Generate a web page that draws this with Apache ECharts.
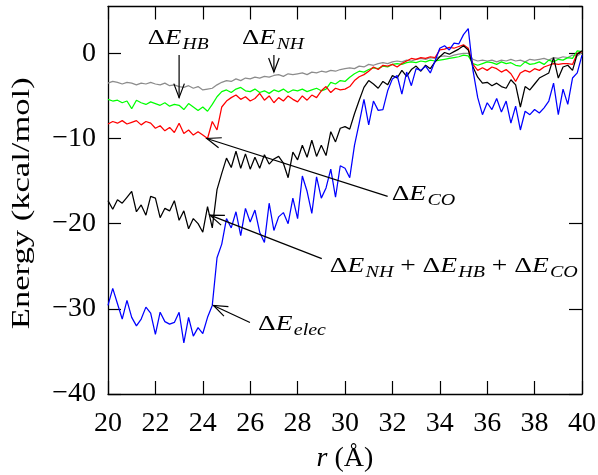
<!DOCTYPE html>
<html><head><meta charset="utf-8">
<script src="https://cdn.jsdelivr.net/npm/echarts@6/dist/echarts.min.js"></script>
<style>html,body{margin:0;padding:0;background:#fff}#c{width:598px;height:475px}</style>
</head><body><div id="c"></div>
<script>
// r (Angstrom) sample positions
const rValues = [
 20.0,20.2,20.4,20.6,20.8,21.0,21.2,21.4,21.6,21.8,
 22.0,22.2,22.4,22.6,22.8,23.0,23.2,23.4,23.6,23.8,
 24.0,24.2,24.4,24.6,24.8,25.0,25.2,25.4,25.6,25.8,
 26.0,26.2,26.4,26.6,26.8,27.0,27.2,27.4,27.6,27.8,
 28.0,28.2,28.4,28.6,28.8,29.0,29.2,29.4,29.6,29.8,
 30.0,30.2,30.4,30.6,30.8,31.0,31.2,31.4,31.6,31.8,
 32.0,32.2,32.4,32.6,32.8,33.0,33.2,33.4,33.6,33.8,
 34.0,34.2,34.4,34.6,34.8,35.0,35.2,35.4,35.6,35.8,
 36.0,36.2,36.4,36.6,36.8,37.0,37.2,37.4,37.6,37.8,
 38.0,38.2,38.4,38.6,38.8,39.0,39.2,39.4,39.6,39.8,
 40.0];
// Delta E_NH (grey)
const dENH = [
 -3.5,-3.3,-3.4,-3.6,-3.4,-3.5,-3.7,-3.5,-3.6,-3.4,
 -3.6,-3.7,-3.5,-3.8,-3.7,-3.9,-4.0,-3.8,-4.1,-3.9,
 -4.3,-4.2,-4.1,-3.7,-3.4,-3.2,-3.3,-3.0,-3.2,-2.9,
 -3.0,-2.8,-2.9,-2.7,-2.8,-2.6,-2.5,-2.7,-2.4,-2.5,
 -2.4,-2.3,-2.5,-2.2,-2.3,-2.1,-2.2,-2.0,-2.1,-1.9,
 -1.8,-1.7,-1.8,-1.5,-1.6,-1.3,-1.4,-1.2,-1.1,-1.2,
 -1.0,-0.9,-1.0,-0.8,-0.9,-0.7,-0.6,-0.7,-0.5,-0.6,
 -0.4,-0.3,-0.4,-0.2,-0.1,0.0,0.0,-0.7,-0.9,-0.8,
 -0.9,-0.8,-1.0,-0.8,-0.9,-0.7,-0.9,-0.8,-1.0,-0.7,
 -0.8,-0.7,-0.6,-0.8,-0.5,-0.6,-0.4,-0.5,-0.2,-0.3,
 0.1];
// Delta E_HB (green)
const dEHB = [
 -5.4,-5.6,-5.5,-5.8,-5.6,-6.5,-5.5,-5.8,-6.0,-5.7,
 -5.9,-6.1,-5.8,-6.2,-6.0,-6.1,-6.6,-5.9,-6.3,-6.7,
 -6.3,-6.8,-6.0,-5.1,-4.5,-4.3,-4.6,-4.2,-4.0,-4.4,
 -4.5,-4.2,-4.6,-4.4,-4.7,-4.3,-4.5,-4.2,-4.6,-4.3,
 -4.4,-4.2,-4.5,-4.3,-4.1,-4.4,-4.2,-3.4,-3.6,-3.2,
 -3.3,-2.8,-2.4,-2.1,-2.2,-1.9,-1.7,-1.8,-1.5,-1.6,
 -1.3,-1.2,-1.3,-1.1,-1.0,-1.1,-0.9,-1.0,-0.8,-0.9,
 -0.8,-0.7,-0.6,-0.5,-0.4,-0.2,-0.3,-1.2,-1.4,-1.2,
 -1.0,-1.1,-1.3,-1.0,-1.2,-1.1,-1.4,-1.5,-1.0,-1.3,
 -1.2,-1.0,-1.3,-0.8,-1.0,-0.7,-0.8,-0.5,-0.6,0.3,
 0.2];
// Delta E_CO (red)
const dECO = [
 -8.3,-8.0,-8.2,-7.9,-8.3,-8.1,-7.9,-8.4,-8.0,-8.2,
 -8.8,-8.5,-9.1,-8.7,-9.3,-8.2,-9.4,-9.0,-9.6,-9.2,
 -9.6,-10.0,-8.0,-9.0,-6.3,-5.6,-5.2,-4.9,-5.4,-5.1,
 -5.6,-5.3,-4.7,-5.5,-5.0,-5.8,-5.2,-5.6,-5.0,-5.4,
 -5.7,-5.0,-5.5,-4.9,-5.2,-4.4,-3.9,-4.6,-4.1,-4.3,
 -4.2,-3.9,-3.2,-2.75,-2.5,-2.1,-1.6,-1.9,-1.4,-1.5,
 -1.3,-1.6,-1.2,-0.9,-0.6,-0.7,-0.5,-0.6,-0.4,-0.5,
 0.4,0.5,0.7,0.6,0.8,1.0,0.6,-1.3,-2.0,-1.7,
 -2.0,-1.6,-1.8,-2.2,-1.9,-2.4,-3.3,-2.3,-2.0,-2.2,
 -1.8,-2.0,-1.6,-1.4,-1.2,-1.3,-1.2,-1.2,-1.3,0.0,
 0.2];
// Delta E_NH + Delta E_HB + Delta E_CO (black)
const dESum = [
 -17.3,-18.3,-17.2,-17.6,-16.9,-16.2,-18.6,-17.8,-19.0,-16.8,
 -17.0,-19.3,-18.2,-18.5,-17.3,-19.6,-18.5,-20.6,-19.4,-20.0,
 -21.0,-18.0,-20.5,-16.0,-14.1,-12.3,-13.4,-11.5,-13.5,-11.8,
 -13.6,-12.2,-13.5,-11.9,-13.0,-12.4,-12.1,-12.9,-14.6,-11.6,
 -12.5,-10.8,-12.2,-10.2,-12.1,-10.8,-12.0,-9.2,-10.4,-8.8,
 -8.6,-8.9,-7.1,-5.5,-4.0,-3.2,-3.6,-4.1,-3.3,-3.7,
 -2.6,-2.9,-2.0,-2.7,-1.9,-1.5,-2.1,-1.4,-1.8,-1.0,
 -0.4,0.1,-0.1,0.2,0.5,0.9,0.4,-1.6,-2.8,-3.5,
 -3.4,-3.8,-3.5,-3.9,-4.1,-3.1,-3.7,-6.3,-3.9,-4.3,
 -3.6,-2.9,-2.6,-2.3,-0.5,-2.9,-1.6,-1.4,-2.0,-0.1,
 0.3];
// Delta E_elec (blue)
const dEElec = [
 -29.6,-27.6,-29.4,-31.2,-29.0,-31.0,-32.0,-31.2,-29.8,-30.5,
 -33.0,-30.4,-31.5,-31.8,-31.6,-30.4,-34.0,-31.0,-33.2,-32.2,
 -32.9,-31.0,-29.6,-24.0,-22.4,-19.4,-20.5,-18.6,-21.4,-18.2,
 -19.8,-18.4,-21.0,-22.2,-17.6,-20.8,-19.2,-18.7,-20.0,-17.0,
 -19.4,-14.4,-16.2,-18.8,-14.5,-17.0,-15.8,-13.6,-16.9,-13.2,
 -13.5,-14.6,-10.8,-8.2,-5.4,-8.4,-5.6,-6.7,-6.6,-4.4,
 -3.0,-2.6,-4.8,-2.2,-3.8,-1.8,-2.0,-1.5,-2.3,-0.9,
 0.6,0.9,0.4,1.2,1.1,2.2,2.9,-2.0,-5.2,-7.2,
 -5.8,-6.6,-5.3,-6.9,-5.6,-8.2,-6.2,-9.0,-6.8,-7.2,
 -6.6,-7.0,-6.4,-5.6,-3.5,-7.2,-4.2,-6.0,-2.9,-2.3,
 -0.2];
const xTicks = [20,22,24,26,28,30,32,34,36,38,40];
const yTicks = [-40,-30,-20,-10,0];

const FONT = "'Liberation Serif', 'DejaVu Serif', serif";
const pair = (ys) => rValues.map((x, i) => [x, ys[i]]);

const chart = echarts.init(document.getElementById('c'), null, {renderer: 'canvas'});

function axisCommon(showLabel) {
  return {
    axisLine: {show: true, onZero: false, lineStyle: {color: '#000', width: 1.3}},
    axisTick: {show: true, inside: true, length: 13, lineStyle: {color: '#000', width: 1.2}},
    splitLine: {show: false},
    axisLabel: {show: showLabel}
  };
}
const minus = v => (v < 0 ? '\u2212' + Math.abs(v) : String(v));

const option = {
  animation: false,
  backgroundColor: '#fff',
  grid: {left: 108, right: 16, top: 6.5, bottom: 81, containLabel: false, outerBoundsMode: 'none'},
  xAxis: [
    Object.assign(axisCommon(true), {
      type: 'value', min: xTicks[0], max: xTicks[xTicks.length - 1], interval: 2, position: 'bottom',
      axisLabel: {show: true, fontFamily: FONT, fontSize: 28, color: '#000', margin: 16, formatter: minus,
        hideOverlap: false},
      name: '{i|r} (Å)', nameLocation: 'middle', nameGap: 51, nameMoveOverlap: false,
      nameTextStyle: {fontFamily: FONT, fontSize: 28, color: '#000',
        rich: {i: {fontFamily: FONT, fontSize: 28, fontStyle: 'italic', color: '#000'}}}
    }),
    Object.assign(axisCommon(false), {
      type: 'value', min: xTicks[0], max: xTicks[xTicks.length - 1], interval: 2, position: 'top'
    })
  ],
  yAxis: [
    Object.assign(axisCommon(true), {
      type: 'value', min: yTicks[0], max: 5.5, interval: 10, position: 'left',
      axisLabel: {show: true, fontFamily: FONT, fontSize: 28, color: '#000', margin: 12,
        formatter: minus, showMaxLabel: false, padding: [6, 0, 0, 0], hideOverlap: false}
    }),
    Object.assign(axisCommon(false), {
      type: 'value', min: yTicks[0], max: 5.5, interval: 10, position: 'right'
    })
  ],
  series: [
    {name: 'NH', type: 'line', data: pair(dENH), color: '#8c8c8c'},
    {name: 'HB', type: 'line', data: pair(dEHB), color: '#00ff00'},
    {name: 'CO', type: 'line', data: pair(dECO), color: '#ff0000'},
    {name: 'SUM', type: 'line', data: pair(dESum), color: '#000000'},
    {name: 'ELEC', type: 'line', data: pair(dEElec), color: '#0000ff'}
  ].map(s => Object.assign(s, {
    showSymbol: false, symbol: 'none', xAxisIndex: 0, yAxisIndex: 0,
    lineStyle: {width: 1.25, color: s.color}, emphasis: {disabled: true}
  }))
};
chart.setOption(option);

// ---- annotations (data coordinates) ----
const labelRich = {
  d: {fontFamily: FONT, fontSize: 22, color: '#000'},
  e: {fontFamily: FONT, fontSize: 22, fontStyle: 'italic', color: '#000'},
  s: {fontFamily: FONT, fontSize: 16, fontStyle: 'italic', color: '#000', padding: [13, 0, 0, 1]},
  o: {fontFamily: FONT, fontSize: 22, color: '#000'}
};
const annotations = [
  {text: '{d|Δ}{e|E}{s|HB}', at: [22.96, 1.8], align: 'center', tail: [23.0, -0.2], tip: [23.0, -5.2]},
  {text: '{d|Δ}{e|E}{s|NH}', at: [26.96, 1.8], align: 'center', tail: [27.0, -0.2], tip: [27.0, -2.2]},
  {text: '{d|Δ}{e|E}{s|CO}', at: [31.97, -16.6], align: 'left', tail: [31.8, -16.8], tip: [24.17, -10.0]},
  {text: '{d|Δ}{e|E}{s|NH}{o| + Δ}{e|E}{s|HB}{o| + Δ}{e|E}{s|CO}', at: [29.36, -25.0], align: 'left', tail: [29.02, -24.1], tip: [24.3, -19.0]},
  {text: '{d|Δ}{e|E}{s|elec}', at: [26.33, -31.8], align: 'left', tail: [25.99, -31.6], tip: [24.45, -29.6]}
];
function px(p) { return chart.convertToPixel({xAxisIndex: 0, yAxisIndex: 0}, p); }
const elements = [];
// y-axis title, centred on the plot's vertical extent
const yTop = px([20, 5.5])[1], yBot = px([20, yTicks[0]])[1];
elements.push({type: 'text', silent: true, z: 100, x: 22, y: (yTop + yBot) / 2 + 3,
  rotation: Math.PI / 2, scaleX: 1.33,
  style: {text: 'Energy (kcal/mol)', x: 0, y: 0, align: 'center', verticalAlign: 'middle',
    font: "26px 'Liberation Serif', serif", fill: '#000'}});
annotations.forEach(a => {
  const t = px(a.at), tl = px(a.tail), tp = px(a.tip);
  elements.push({type: 'text', silent: true, z: 100, x: t[0], y: t[1], scaleX: a.align === 'left' ? 1.25 : 1.22,
    style: {text: a.text, x: 0, y: 0, align: a.align, verticalAlign: 'middle', rich: labelRich, fill: '#000'}});
  elements.push({type: 'polyline', silent: true, z: 100,
    shape: {points: [tl, tp]}, style: {stroke: '#000', lineWidth: 1.2, fill: null}});
  const dx = tp[0] - tl[0], dy = tp[1] - tl[1], L = Math.hypot(dx, dy);
  const ux = -dx / L, uy = -dy / L, len = 15, ang = 0.36;
  const w = s => [tp[0] + len * (ux * Math.cos(s * ang) - uy * Math.sin(s * ang)),
                  tp[1] + len * (ux * Math.sin(s * ang) + uy * Math.cos(s * ang))];
  elements.push({type: 'polyline', silent: true, z: 100,
    shape: {points: [w(1), tp, w(-1)]}, style: {stroke: '#000', lineWidth: 1.2, fill: null}});
});
chart.setOption({graphic: {elements: elements}});
</script>
</body></html>
